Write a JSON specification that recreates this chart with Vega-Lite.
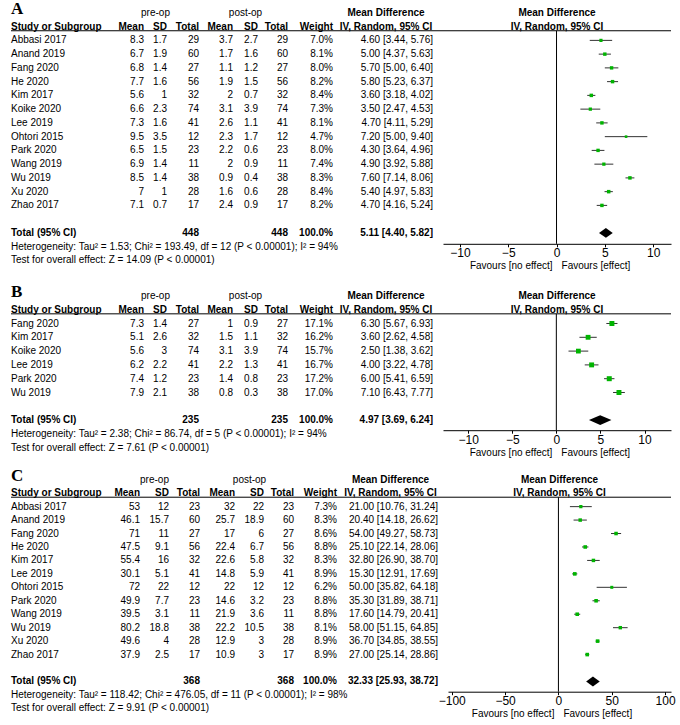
{
"$schema":"https://vega.github.io/schema/vega-lite/v6.json",
"padding":{"left":10,"top":0,"right":5,"bottom":5},
"config":{"view":{"stroke":null},"text":{"font":"Liberation Sans","fontSize":10,"color":"black"},
"axis":{"domainColor":"black","tickColor":"black","labelColor":"black","labelFont":"Liberation Sans","labelFontSize":12,"tickSize":3,"labelPadding":1,"grid":false,"labelOverlap":false,"labelFlush":false}},
"datasets":{
"A":[
{"study":"Abbasi 2017","m1":8.3,"sd1":1.7,"n1":29,"m2":3.7,"sd2":2.7,"n2":29,"weight":0.070,"md":4.60,"lo":3.44,"hi":5.76,"ci":"4.60 [3.44, 5.76]"},
{"study":"Anand 2019","m1":6.7,"sd1":1.9,"n1":60,"m2":1.7,"sd2":1.6,"n2":60,"weight":0.081,"md":5.00,"lo":4.37,"hi":5.63,"ci":"5.00 [4.37, 5.63]"},
{"study":"Fang 2020","m1":6.8,"sd1":1.4,"n1":27,"m2":1.1,"sd2":1.2,"n2":27,"weight":0.080,"md":5.70,"lo":5.00,"hi":6.40,"ci":"5.70 [5.00, 6.40]"},
{"study":"He 2020","m1":7.7,"sd1":1.6,"n1":56,"m2":1.9,"sd2":1.5,"n2":56,"weight":0.082,"md":5.80,"lo":5.23,"hi":6.37,"ci":"5.80 [5.23, 6.37]"},
{"study":"Kim 2017","m1":5.6,"sd1":1,"n1":32,"m2":2,"sd2":0.7,"n2":32,"weight":0.084,"md":3.60,"lo":3.18,"hi":4.02,"ci":"3.60 [3.18, 4.02]"},
{"study":"Koike 2020","m1":6.6,"sd1":2.3,"n1":74,"m2":3.1,"sd2":3.9,"n2":74,"weight":0.073,"md":3.50,"lo":2.47,"hi":4.53,"ci":"3.50 [2.47, 4.53]"},
{"study":"Lee 2019","m1":7.3,"sd1":1.6,"n1":41,"m2":2.6,"sd2":1.1,"n2":41,"weight":0.081,"md":4.70,"lo":4.11,"hi":5.29,"ci":"4.70 [4.11, 5.29]"},
{"study":"Ohtori 2015","m1":9.5,"sd1":3.5,"n1":12,"m2":2.3,"sd2":1.7,"n2":12,"weight":0.047,"md":7.20,"lo":5.00,"hi":9.40,"ci":"7.20 [5.00, 9.40]"},
{"study":"Park 2020","m1":6.5,"sd1":1.5,"n1":23,"m2":2.2,"sd2":0.6,"n2":23,"weight":0.080,"md":4.30,"lo":3.64,"hi":4.96,"ci":"4.30 [3.64, 4.96]"},
{"study":"Wang 2019","m1":6.9,"sd1":1.4,"n1":11,"m2":2,"sd2":0.9,"n2":11,"weight":0.074,"md":4.90,"lo":3.92,"hi":5.88,"ci":"4.90 [3.92, 5.88]"},
{"study":"Wu 2019","m1":8.5,"sd1":1.4,"n1":38,"m2":0.9,"sd2":0.4,"n2":38,"weight":0.083,"md":7.60,"lo":7.14,"hi":8.06,"ci":"7.60 [7.14, 8.06]"},
{"study":"Xu 2020","m1":7,"sd1":1,"n1":28,"m2":1.6,"sd2":0.6,"n2":28,"weight":0.084,"md":5.40,"lo":4.97,"hi":5.83,"ci":"5.40 [4.97, 5.83]"},
{"study":"Zhao 2017","m1":7.1,"sd1":0.7,"n1":17,"m2":2.4,"sd2":0.9,"n2":17,"weight":0.082,"md":4.70,"lo":4.16,"hi":5.24,"ci":"4.70 [4.16, 5.24]"}],
"A_total":[{"study":"Total (95% CI)","n1":448,"n2":448,"weight":1,"md":5.11,"lo":4.40,"hi":5.82,"ci":"5.11 [4.40, 5.82]"}],
"A_notes":[{"study":"het","label":"Heterogeneity: Tau² = 1.53; Chi² = 193.49, df = 12 (P < 0.00001); I² = 94%"},{"study":"test","label":"Test for overall effect: Z = 14.09 (P < 0.00001)"}],
"B":[
{"study":"Fang 2020","m1":7.3,"sd1":1.4,"n1":27,"m2":1,"sd2":0.9,"n2":27,"weight":0.171,"md":6.30,"lo":5.67,"hi":6.93,"ci":"6.30 [5.67, 6.93]"},
{"study":"Kim 2017","m1":5.1,"sd1":2.6,"n1":32,"m2":1.5,"sd2":1.1,"n2":32,"weight":0.162,"md":3.60,"lo":2.62,"hi":4.58,"ci":"3.60 [2.62, 4.58]"},
{"study":"Koike 2020","m1":5.6,"sd1":3,"n1":74,"m2":3.1,"sd2":3.9,"n2":74,"weight":0.157,"md":2.50,"lo":1.38,"hi":3.62,"ci":"2.50 [1.38, 3.62]"},
{"study":"Lee 2019","m1":6.2,"sd1":2.2,"n1":41,"m2":2.2,"sd2":1.3,"n2":41,"weight":0.167,"md":4.00,"lo":3.22,"hi":4.78,"ci":"4.00 [3.22, 4.78]"},
{"study":"Park 2020","m1":7.4,"sd1":1.2,"n1":23,"m2":1.4,"sd2":0.8,"n2":23,"weight":0.172,"md":6.00,"lo":5.41,"hi":6.59,"ci":"6.00 [5.41, 6.59]"},
{"study":"Wu 2019","m1":7.9,"sd1":2.1,"n1":38,"m2":0.8,"sd2":0.3,"n2":38,"weight":0.170,"md":7.10,"lo":6.43,"hi":7.77,"ci":"7.10 [6.43, 7.77]"}],
"B_total":[{"study":"Total (95% CI)","n1":235,"n2":235,"weight":1,"md":4.97,"lo":3.69,"hi":6.24,"ci":"4.97 [3.69, 6.24]"}],
"B_notes":[{"study":"het","label":"Heterogeneity: Tau² = 2.38; Chi² = 86.74, df = 5 (P < 0.00001); I² = 94%"},{"study":"test","label":"Test for overall effect: Z = 7.61 (P < 0.00001)"}],
"C":[
{"study":"Abbasi 2017","m1":53,"sd1":12,"n1":23,"m2":32,"sd2":22,"n2":23,"weight":0.073,"md":21.00,"lo":10.76,"hi":31.24,"ci":"21.00 [10.76, 31.24]"},
{"study":"Anand 2019","m1":46.1,"sd1":15.7,"n1":60,"m2":25.7,"sd2":18.9,"n2":60,"weight":0.083,"md":20.40,"lo":14.18,"hi":26.62,"ci":"20.40 [14.18, 26.62]"},
{"study":"Fang 2020","m1":71,"sd1":11,"n1":27,"m2":17,"sd2":6,"n2":27,"weight":0.086,"md":54.00,"lo":49.27,"hi":58.73,"ci":"54.00 [49.27, 58.73]"},
{"study":"He 2020","m1":47.5,"sd1":9.1,"n1":56,"m2":22.4,"sd2":6.7,"n2":56,"weight":0.088,"md":25.10,"lo":22.14,"hi":28.06,"ci":"25.10 [22.14, 28.06]"},
{"study":"Kim 2017","m1":55.4,"sd1":16,"n1":32,"m2":22.6,"sd2":5.8,"n2":32,"weight":0.083,"md":32.80,"lo":26.90,"hi":38.70,"ci":"32.80 [26.90, 38.70]"},
{"study":"Lee 2019","m1":30.1,"sd1":5.1,"n1":41,"m2":14.8,"sd2":5.9,"n2":41,"weight":0.089,"md":15.30,"lo":12.91,"hi":17.69,"ci":"15.30 [12.91, 17.69]"},
{"study":"Ohtori 2015","m1":72,"sd1":22,"n1":12,"m2":22,"sd2":12,"n2":12,"weight":0.062,"md":50.00,"lo":35.82,"hi":64.18,"ci":"50.00 [35.82, 64.18]"},
{"study":"Park 2020","m1":49.9,"sd1":7.7,"n1":23,"m2":14.6,"sd2":3.2,"n2":23,"weight":0.088,"md":35.30,"lo":31.89,"hi":38.71,"ci":"35.30 [31.89, 38.71]"},
{"study":"Wang 2019","m1":39.5,"sd1":3.1,"n1":11,"m2":21.9,"sd2":3.6,"n2":11,"weight":0.088,"md":17.60,"lo":14.79,"hi":20.41,"ci":"17.60 [14.79, 20.41]"},
{"study":"Wu 2019","m1":80.2,"sd1":18.8,"n1":38,"m2":22.2,"sd2":10.5,"n2":38,"weight":0.081,"md":58.00,"lo":51.15,"hi":64.85,"ci":"58.00 [51.15, 64.85]"},
{"study":"Xu 2020","m1":49.6,"sd1":4,"n1":28,"m2":12.9,"sd2":3,"n2":28,"weight":0.089,"md":36.70,"lo":34.85,"hi":38.55,"ci":"36.70 [34.85, 38.55]"},
{"study":"Zhao 2017","m1":37.9,"sd1":2.5,"n1":17,"m2":10.9,"sd2":3,"n2":17,"weight":0.089,"md":27.00,"lo":25.14,"hi":28.86,"ci":"27.00 [25.14, 28.86]"}],
"C_total":[{"study":"Total (95% CI)","n1":368,"n2":368,"weight":1,"md":32.33,"lo":25.93,"hi":38.72,"ci":"32.33 [25.93, 38.72]"}],
"C_notes":[{"study":"het","label":"Heterogeneity: Tau² = 118.42; Chi² = 476.05, df = 11 (P < 0.00001); I² = 98%"},{"study":"test","label":"Test for overall effect: Z = 9.91 (P < 0.00001)"}]
},
"spacing":11,
"vconcat":[
{"hconcat":[
{"width":100,"height":261.25,"encoding":{"y":{"field":"study","type":"nominal","axis":null,"scale":{"type":"band","paddingInner":0,"paddingOuter":0,"domain":["h1","h2","Abbasi 2017","Anand 2019","Fang 2020","He 2020","Kim 2017","Koike 2020","Lee 2019","Ohtori 2015","Park 2020","Wang 2019","Wu 2019","Xu 2020","Zhao 2017","gap","Total (95% CI)","het","test"]}}},"layer":[
{"data":{"name":"A"},"mark":{"type":"text","align":"left"},"encoding":{"x":{"value":0},"text":{"field":"study","type":"nominal"}}},
{"data":{"name":"A_total"},"mark":{"type":"text","align":"left","fontWeight":"bold"},"encoding":{"x":{"value":0},"text":{"field":"study","type":"nominal"}}},
{"data":{"name":"A_notes"},"mark":{"type":"text","align":"left"},"encoding":{"x":{"value":0},"text":{"field":"label","type":"nominal"}}},
{"data":{"values":[{"study":"h2","label":"Study or Subgroup"}]},"mark":{"type":"text","align":"left","fontWeight":"bold"},"encoding":{"x":{"value":0},"text":{"field":"label","type":"nominal"}}},
{"data":{"values":[{"study":"h1","label":"A"}]},"mark":{"type":"text","align":"left","font":"Liberation Serif","fontWeight":"bold","fontSize":17,"dy":-3.5},"encoding":{"x":{"value":0},"text":{"field":"label","type":"nominal"}}},
{"data":{"values":[{"study":"h2"}]},"mark":{"type":"rule","color":"black"},"encoding":{"y":{"field":"study","type":"nominal","bandPosition":0.8,"axis":null}}}]},
{"width":33,"height":261.25,"encoding":{"y":{"field":"study","type":"nominal","axis":null,"scale":{"type":"band","paddingInner":0,"paddingOuter":0,"domain":["h1","h2","Abbasi 2017","Anand 2019","Fang 2020","He 2020","Kim 2017","Koike 2020","Lee 2019","Ohtori 2015","Park 2020","Wang 2019","Wu 2019","Xu 2020","Zhao 2017","gap","Total (95% CI)","het","test"]}}},"layer":[
{"data":{"name":"A"},"mark":{"type":"text","align":"right"},"encoding":{"x":{"value":"width"},"text":{"field":"m1","type":"nominal"}}},
{"data":{"values":[{"study":"h2","label":"Mean"}]},"mark":{"type":"text","align":"right","fontWeight":"bold"},"encoding":{"x":{"value":"width"},"text":{"field":"label","type":"nominal"}}},
{"data":{"values":[{"study":"h2"}]},"mark":{"type":"rule","color":"black"},"encoding":{"y":{"field":"study","type":"nominal","bandPosition":0.8,"axis":null}}}]},
{"width":23,"height":261.25,"encoding":{"y":{"field":"study","type":"nominal","axis":null,"scale":{"type":"band","paddingInner":0,"paddingOuter":0,"domain":["h1","h2","Abbasi 2017","Anand 2019","Fang 2020","He 2020","Kim 2017","Koike 2020","Lee 2019","Ohtori 2015","Park 2020","Wang 2019","Wu 2019","Xu 2020","Zhao 2017","gap","Total (95% CI)","het","test"]}}},"layer":[
{"data":{"name":"A"},"mark":{"type":"text","align":"right"},"encoding":{"x":{"value":"width"},"text":{"field":"sd1","type":"nominal"}}},
{"data":{"values":[{"study":"h2","label":"SD"}]},"mark":{"type":"text","align":"right","fontWeight":"bold"},"encoding":{"x":{"value":"width"},"text":{"field":"label","type":"nominal"}}},
{"data":{"values":[{"study":"h1","label":"pre-op"}]},"mark":{"type":"text"},"encoding":{"text":{"field":"label","type":"nominal"}}},
{"data":{"values":[{"study":"h2"}]},"mark":{"type":"rule","color":"black"},"encoding":{"y":{"field":"study","type":"nominal","bandPosition":0.8,"axis":null}}}]},
{"width":32,"height":261.25,"encoding":{"y":{"field":"study","type":"nominal","axis":null,"scale":{"type":"band","paddingInner":0,"paddingOuter":0,"domain":["h1","h2","Abbasi 2017","Anand 2019","Fang 2020","He 2020","Kim 2017","Koike 2020","Lee 2019","Ohtori 2015","Park 2020","Wang 2019","Wu 2019","Xu 2020","Zhao 2017","gap","Total (95% CI)","het","test"]}}},"layer":[
{"data":{"name":"A"},"mark":{"type":"text","align":"right"},"encoding":{"x":{"value":"width"},"text":{"field":"n1","type":"nominal"}}},
{"data":{"name":"A_total"},"mark":{"type":"text","align":"right","fontWeight":"bold"},"encoding":{"x":{"value":"width"},"text":{"field":"n1","type":"nominal"}}},
{"data":{"values":[{"study":"h2","label":"Total"}]},"mark":{"type":"text","align":"right","fontWeight":"bold"},"encoding":{"x":{"value":"width"},"text":{"field":"label","type":"nominal"}}},
{"data":{"values":[{"study":"h2"}]},"mark":{"type":"rule","color":"black"},"encoding":{"y":{"field":"study","type":"nominal","bandPosition":0.8,"axis":null}}}]},
{"width":34,"height":261.25,"encoding":{"y":{"field":"study","type":"nominal","axis":null,"scale":{"type":"band","paddingInner":0,"paddingOuter":0,"domain":["h1","h2","Abbasi 2017","Anand 2019","Fang 2020","He 2020","Kim 2017","Koike 2020","Lee 2019","Ohtori 2015","Park 2020","Wang 2019","Wu 2019","Xu 2020","Zhao 2017","gap","Total (95% CI)","het","test"]}}},"layer":[
{"data":{"name":"A"},"mark":{"type":"text","align":"right"},"encoding":{"x":{"value":"width"},"text":{"field":"m2","type":"nominal"}}},
{"data":{"values":[{"study":"h2","label":"Mean"}]},"mark":{"type":"text","align":"right","fontWeight":"bold"},"encoding":{"x":{"value":"width"},"text":{"field":"label","type":"nominal"}}},
{"data":{"values":[{"study":"h2"}]},"mark":{"type":"rule","color":"black"},"encoding":{"y":{"field":"study","type":"nominal","bandPosition":0.8,"axis":null}}}]},
{"width":25,"height":261.25,"encoding":{"y":{"field":"study","type":"nominal","axis":null,"scale":{"type":"band","paddingInner":0,"paddingOuter":0,"domain":["h1","h2","Abbasi 2017","Anand 2019","Fang 2020","He 2020","Kim 2017","Koike 2020","Lee 2019","Ohtori 2015","Park 2020","Wang 2019","Wu 2019","Xu 2020","Zhao 2017","gap","Total (95% CI)","het","test"]}}},"layer":[
{"data":{"name":"A"},"mark":{"type":"text","align":"right"},"encoding":{"x":{"value":"width"},"text":{"field":"sd2","type":"nominal"}}},
{"data":{"values":[{"study":"h2","label":"SD"}]},"mark":{"type":"text","align":"right","fontWeight":"bold"},"encoding":{"x":{"value":"width"},"text":{"field":"label","type":"nominal"}}},
{"data":{"values":[{"study":"h1","label":"post-op"}]},"mark":{"type":"text"},"encoding":{"text":{"field":"label","type":"nominal"}}},
{"data":{"values":[{"study":"h2"}]},"mark":{"type":"rule","color":"black"},"encoding":{"y":{"field":"study","type":"nominal","bandPosition":0.8,"axis":null}}}]},
{"width":30,"height":261.25,"encoding":{"y":{"field":"study","type":"nominal","axis":null,"scale":{"type":"band","paddingInner":0,"paddingOuter":0,"domain":["h1","h2","Abbasi 2017","Anand 2019","Fang 2020","He 2020","Kim 2017","Koike 2020","Lee 2019","Ohtori 2015","Park 2020","Wang 2019","Wu 2019","Xu 2020","Zhao 2017","gap","Total (95% CI)","het","test"]}}},"layer":[
{"data":{"name":"A"},"mark":{"type":"text","align":"right"},"encoding":{"x":{"value":"width"},"text":{"field":"n2","type":"nominal"}}},
{"data":{"name":"A_total"},"mark":{"type":"text","align":"right","fontWeight":"bold"},"encoding":{"x":{"value":"width"},"text":{"field":"n2","type":"nominal"}}},
{"data":{"values":[{"study":"h2","label":"Total"}]},"mark":{"type":"text","align":"right","fontWeight":"bold"},"encoding":{"x":{"value":"width"},"text":{"field":"label","type":"nominal"}}},
{"data":{"values":[{"study":"h2"}]},"mark":{"type":"rule","color":"black"},"encoding":{"y":{"field":"study","type":"nominal","bandPosition":0.8,"axis":null}}}]},
{"width":45,"height":261.25,"encoding":{"y":{"field":"study","type":"nominal","axis":null,"scale":{"type":"band","paddingInner":0,"paddingOuter":0,"domain":["h1","h2","Abbasi 2017","Anand 2019","Fang 2020","He 2020","Kim 2017","Koike 2020","Lee 2019","Ohtori 2015","Park 2020","Wang 2019","Wu 2019","Xu 2020","Zhao 2017","gap","Total (95% CI)","het","test"]}}},"layer":[
{"data":{"name":"A"},"mark":{"type":"text","align":"right"},"encoding":{"x":{"value":"width"},"text":{"field":"weight","type":"quantitative","format":".1%"}}},
{"data":{"name":"A_total"},"mark":{"type":"text","align":"right","fontWeight":"bold"},"encoding":{"x":{"value":"width"},"text":{"field":"weight","type":"quantitative","format":".1%"}}},
{"data":{"values":[{"study":"h2","label":"Weight"}]},"mark":{"type":"text","align":"right","fontWeight":"bold"},"encoding":{"x":{"value":"width"},"text":{"field":"label","type":"nominal"}}},
{"data":{"values":[{"study":"h2"}]},"mark":{"type":"rule","color":"black"},"encoding":{"y":{"field":"study","type":"nominal","bandPosition":0.8,"axis":null}}}]},
{"width":110,"height":261.25,"encoding":{"y":{"field":"study","type":"nominal","axis":null,"scale":{"type":"band","paddingInner":0,"paddingOuter":0,"domain":["h1","h2","Abbasi 2017","Anand 2019","Fang 2020","He 2020","Kim 2017","Koike 2020","Lee 2019","Ohtori 2015","Park 2020","Wang 2019","Wu 2019","Xu 2020","Zhao 2017","gap","Total (95% CI)","het","test"]}}},"layer":[
{"data":{"name":"A"},"mark":{"type":"text","align":"right","dx":-10},"encoding":{"x":{"value":"width"},"text":{"field":"ci","type":"nominal"}}},
{"data":{"name":"A_total"},"mark":{"type":"text","align":"right","dx":-10,"fontWeight":"bold"},"encoding":{"x":{"value":"width"},"text":{"field":"ci","type":"nominal"}}},
{"data":{"values":[{"study":"h1","label":"Mean Difference"},{"study":"h2","label":"IV, Random, 95% CI"}]},"mark":{"type":"text","fontWeight":"bold","dx":-2},"encoding":{"text":{"field":"label","type":"nominal"}}},
{"data":{"values":[{"study":"h2"}]},"mark":{"type":"rule","color":"black"},"encoding":{"y":{"field":"study","type":"nominal","bandPosition":0.8,"axis":null}}}]},
{"width":228,"height":237.8,"encoding":{"y":{"field":"study","type":"nominal","axis":null,"scale":{"type":"band","paddingInner":0,"paddingOuter":0.146,"align":0,"domain":["h1","h2","Abbasi 2017","Anand 2019","Fang 2020","He 2020","Kim 2017","Koike 2020","Lee 2019","Ohtori 2015","Park 2020","Wang 2019","Wu 2019","Xu 2020","Zhao 2017","gap","Total (95% CI)"]}}},"layer":[
{"data":{"values":[{"study":"h1","label":"Mean Difference"},{"study":"h2","label":"IV, Random, 95% CI"}]},"mark":{"type":"text","fontWeight":"bold"},"encoding":{"text":{"field":"label","type":"nominal"}}},
{"data":{"values":[{"study":"h2"}]},"mark":{"type":"rule","color":"black"},"encoding":{"y":{"field":"study","type":"nominal","bandPosition":0.8,"axis":null}}},
{"data":{"name":"A"},"mark":{"type":"rule","color":"#333333"},"encoding":{"x":{"field":"lo","type":"quantitative","title":null,"scale":{"domain":[-11.75,11.85],"nice":false,"zero":false},"axis":{"values":[-10,-5,0,5,10],"title":null}},"x2":{"field":"hi"}}},
{"data":{"values":[{"study":"h2"}]},"mark":{"type":"rule","color":"black"},"encoding":{"x":{"datum":0,"type":"quantitative"},"y":{"field":"study","type":"nominal","bandPosition":0.8,"axis":null},"y2":{"value":"height"}}},
{"data":{"name":"A"},"mark":{"type":"point","shape":"square","filled":true,"opacity":1,"color":"#00b400"},"encoding":{"x":{"field":"md","type":"quantitative","title":null},"size":{"field":"weight","type":"quantitative","legend":null,"scale":{"domain":[0,0.2],"range":[0,29]}}}},
{"data":{"name":"A_total"},"mark":{"type":"point","shape":"M-1,0L0,-0.72L1,0L0,0.72Z","filled":true,"opacity":1,"color":"black","size":190},"encoding":{"x":{"field":"md","type":"quantitative","title":null}}},
{"data":{"values":[{"label":"Favours [no effect]"}]},"mark":{"type":"text","align":"right","dx":-4,"dy":22.5},"encoding":{"x":{"datum":0,"type":"quantitative"},"y":{"value":"height"},"text":{"field":"label","type":"nominal"}}},
{"data":{"values":[{"label":"Favours [effect]"}]},"mark":{"type":"text","align":"left","dx":5,"dy":22.5},"encoding":{"x":{"datum":0,"type":"quantitative"},"y":{"value":"height"},"text":{"field":"label","type":"nominal"}}}]}
],"spacing":0,"bounds":"flush"},
{"spacing":9,"vconcat":[
{"hconcat":[
{"width":100,"height":165.6,"encoding":{"y":{"field":"study","type":"nominal","axis":null,"scale":{"type":"band","paddingInner":0,"paddingOuter":0,"domain":["h1","h2","Fang 2020","Kim 2017","Koike 2020","Lee 2019","Park 2020","Wu 2019","gap","Total (95% CI)","het","test"]}}},"layer":[
{"data":{"name":"B"},"mark":{"type":"text","align":"left"},"encoding":{"x":{"value":0},"text":{"field":"study","type":"nominal"}}},
{"data":{"name":"B_total"},"mark":{"type":"text","align":"left","fontWeight":"bold"},"encoding":{"x":{"value":0},"text":{"field":"study","type":"nominal"}}},
{"data":{"name":"B_notes"},"mark":{"type":"text","align":"left"},"encoding":{"x":{"value":0},"text":{"field":"label","type":"nominal"}}},
{"data":{"values":[{"study":"h2","label":"Study or Subgroup"}]},"mark":{"type":"text","align":"left","fontWeight":"bold"},"encoding":{"x":{"value":0},"text":{"field":"label","type":"nominal"}}},
{"data":{"values":[{"study":"h1","label":"B"}]},"mark":{"type":"text","align":"left","font":"Liberation Serif","fontWeight":"bold","fontSize":17,"dy":-3.5},"encoding":{"x":{"value":0},"text":{"field":"label","type":"nominal"}}},
{"data":{"values":[{"study":"h2"}]},"mark":{"type":"rule","color":"black"},"encoding":{"y":{"field":"study","type":"nominal","bandPosition":0.8,"axis":null}}}]},
{"width":33,"height":165.6,"encoding":{"y":{"field":"study","type":"nominal","axis":null,"scale":{"type":"band","paddingInner":0,"paddingOuter":0,"domain":["h1","h2","Fang 2020","Kim 2017","Koike 2020","Lee 2019","Park 2020","Wu 2019","gap","Total (95% CI)","het","test"]}}},"layer":[
{"data":{"name":"B"},"mark":{"type":"text","align":"right"},"encoding":{"x":{"value":"width"},"text":{"field":"m1","type":"nominal"}}},
{"data":{"values":[{"study":"h2","label":"Mean"}]},"mark":{"type":"text","align":"right","fontWeight":"bold"},"encoding":{"x":{"value":"width"},"text":{"field":"label","type":"nominal"}}},
{"data":{"values":[{"study":"h2"}]},"mark":{"type":"rule","color":"black"},"encoding":{"y":{"field":"study","type":"nominal","bandPosition":0.8,"axis":null}}}]},
{"width":23,"height":165.6,"encoding":{"y":{"field":"study","type":"nominal","axis":null,"scale":{"type":"band","paddingInner":0,"paddingOuter":0,"domain":["h1","h2","Fang 2020","Kim 2017","Koike 2020","Lee 2019","Park 2020","Wu 2019","gap","Total (95% CI)","het","test"]}}},"layer":[
{"data":{"name":"B"},"mark":{"type":"text","align":"right"},"encoding":{"x":{"value":"width"},"text":{"field":"sd1","type":"nominal"}}},
{"data":{"values":[{"study":"h2","label":"SD"}]},"mark":{"type":"text","align":"right","fontWeight":"bold"},"encoding":{"x":{"value":"width"},"text":{"field":"label","type":"nominal"}}},
{"data":{"values":[{"study":"h1","label":"pre-op"}]},"mark":{"type":"text"},"encoding":{"text":{"field":"label","type":"nominal"}}},
{"data":{"values":[{"study":"h2"}]},"mark":{"type":"rule","color":"black"},"encoding":{"y":{"field":"study","type":"nominal","bandPosition":0.8,"axis":null}}}]},
{"width":32,"height":165.6,"encoding":{"y":{"field":"study","type":"nominal","axis":null,"scale":{"type":"band","paddingInner":0,"paddingOuter":0,"domain":["h1","h2","Fang 2020","Kim 2017","Koike 2020","Lee 2019","Park 2020","Wu 2019","gap","Total (95% CI)","het","test"]}}},"layer":[
{"data":{"name":"B"},"mark":{"type":"text","align":"right"},"encoding":{"x":{"value":"width"},"text":{"field":"n1","type":"nominal"}}},
{"data":{"name":"B_total"},"mark":{"type":"text","align":"right","fontWeight":"bold"},"encoding":{"x":{"value":"width"},"text":{"field":"n1","type":"nominal"}}},
{"data":{"values":[{"study":"h2","label":"Total"}]},"mark":{"type":"text","align":"right","fontWeight":"bold"},"encoding":{"x":{"value":"width"},"text":{"field":"label","type":"nominal"}}},
{"data":{"values":[{"study":"h2"}]},"mark":{"type":"rule","color":"black"},"encoding":{"y":{"field":"study","type":"nominal","bandPosition":0.8,"axis":null}}}]},
{"width":34,"height":165.6,"encoding":{"y":{"field":"study","type":"nominal","axis":null,"scale":{"type":"band","paddingInner":0,"paddingOuter":0,"domain":["h1","h2","Fang 2020","Kim 2017","Koike 2020","Lee 2019","Park 2020","Wu 2019","gap","Total (95% CI)","het","test"]}}},"layer":[
{"data":{"name":"B"},"mark":{"type":"text","align":"right"},"encoding":{"x":{"value":"width"},"text":{"field":"m2","type":"nominal"}}},
{"data":{"values":[{"study":"h2","label":"Mean"}]},"mark":{"type":"text","align":"right","fontWeight":"bold"},"encoding":{"x":{"value":"width"},"text":{"field":"label","type":"nominal"}}},
{"data":{"values":[{"study":"h2"}]},"mark":{"type":"rule","color":"black"},"encoding":{"y":{"field":"study","type":"nominal","bandPosition":0.8,"axis":null}}}]},
{"width":25,"height":165.6,"encoding":{"y":{"field":"study","type":"nominal","axis":null,"scale":{"type":"band","paddingInner":0,"paddingOuter":0,"domain":["h1","h2","Fang 2020","Kim 2017","Koike 2020","Lee 2019","Park 2020","Wu 2019","gap","Total (95% CI)","het","test"]}}},"layer":[
{"data":{"name":"B"},"mark":{"type":"text","align":"right"},"encoding":{"x":{"value":"width"},"text":{"field":"sd2","type":"nominal"}}},
{"data":{"values":[{"study":"h2","label":"SD"}]},"mark":{"type":"text","align":"right","fontWeight":"bold"},"encoding":{"x":{"value":"width"},"text":{"field":"label","type":"nominal"}}},
{"data":{"values":[{"study":"h1","label":"post-op"}]},"mark":{"type":"text"},"encoding":{"text":{"field":"label","type":"nominal"}}},
{"data":{"values":[{"study":"h2"}]},"mark":{"type":"rule","color":"black"},"encoding":{"y":{"field":"study","type":"nominal","bandPosition":0.8,"axis":null}}}]},
{"width":30,"height":165.6,"encoding":{"y":{"field":"study","type":"nominal","axis":null,"scale":{"type":"band","paddingInner":0,"paddingOuter":0,"domain":["h1","h2","Fang 2020","Kim 2017","Koike 2020","Lee 2019","Park 2020","Wu 2019","gap","Total (95% CI)","het","test"]}}},"layer":[
{"data":{"name":"B"},"mark":{"type":"text","align":"right"},"encoding":{"x":{"value":"width"},"text":{"field":"n2","type":"nominal"}}},
{"data":{"name":"B_total"},"mark":{"type":"text","align":"right","fontWeight":"bold"},"encoding":{"x":{"value":"width"},"text":{"field":"n2","type":"nominal"}}},
{"data":{"values":[{"study":"h2","label":"Total"}]},"mark":{"type":"text","align":"right","fontWeight":"bold"},"encoding":{"x":{"value":"width"},"text":{"field":"label","type":"nominal"}}},
{"data":{"values":[{"study":"h2"}]},"mark":{"type":"rule","color":"black"},"encoding":{"y":{"field":"study","type":"nominal","bandPosition":0.8,"axis":null}}}]},
{"width":45,"height":165.6,"encoding":{"y":{"field":"study","type":"nominal","axis":null,"scale":{"type":"band","paddingInner":0,"paddingOuter":0,"domain":["h1","h2","Fang 2020","Kim 2017","Koike 2020","Lee 2019","Park 2020","Wu 2019","gap","Total (95% CI)","het","test"]}}},"layer":[
{"data":{"name":"B"},"mark":{"type":"text","align":"right"},"encoding":{"x":{"value":"width"},"text":{"field":"weight","type":"quantitative","format":".1%"}}},
{"data":{"name":"B_total"},"mark":{"type":"text","align":"right","fontWeight":"bold"},"encoding":{"x":{"value":"width"},"text":{"field":"weight","type":"quantitative","format":".1%"}}},
{"data":{"values":[{"study":"h2","label":"Weight"}]},"mark":{"type":"text","align":"right","fontWeight":"bold"},"encoding":{"x":{"value":"width"},"text":{"field":"label","type":"nominal"}}},
{"data":{"values":[{"study":"h2"}]},"mark":{"type":"rule","color":"black"},"encoding":{"y":{"field":"study","type":"nominal","bandPosition":0.8,"axis":null}}}]},
{"width":110,"height":165.6,"encoding":{"y":{"field":"study","type":"nominal","axis":null,"scale":{"type":"band","paddingInner":0,"paddingOuter":0,"domain":["h1","h2","Fang 2020","Kim 2017","Koike 2020","Lee 2019","Park 2020","Wu 2019","gap","Total (95% CI)","het","test"]}}},"layer":[
{"data":{"name":"B"},"mark":{"type":"text","align":"right","dx":-10},"encoding":{"x":{"value":"width"},"text":{"field":"ci","type":"nominal"}}},
{"data":{"name":"B_total"},"mark":{"type":"text","align":"right","dx":-10,"fontWeight":"bold"},"encoding":{"x":{"value":"width"},"text":{"field":"ci","type":"nominal"}}},
{"data":{"values":[{"study":"h1","label":"Mean Difference"},{"study":"h2","label":"IV, Random, 95% CI"}]},"mark":{"type":"text","fontWeight":"bold","dx":-2},"encoding":{"text":{"field":"label","type":"nominal"}}},
{"data":{"values":[{"study":"h2"}]},"mark":{"type":"rule","color":"black"},"encoding":{"y":{"field":"study","type":"nominal","bandPosition":0.8,"axis":null}}}]},
{"width":228,"height":141.2,"encoding":{"y":{"field":"study","type":"nominal","axis":null,"scale":{"type":"band","paddingInner":0,"paddingOuter":0.116,"align":0,"domain":["h1","h2","Fang 2020","Kim 2017","Koike 2020","Lee 2019","Park 2020","Wu 2019","gap","Total (95% CI)"]}}},"layer":[
{"data":{"values":[{"study":"h1","label":"Mean Difference"},{"study":"h2","label":"IV, Random, 95% CI"}]},"mark":{"type":"text","fontWeight":"bold"},"encoding":{"text":{"field":"label","type":"nominal"}}},
{"data":{"values":[{"study":"h2"}]},"mark":{"type":"rule","color":"black"},"encoding":{"y":{"field":"study","type":"nominal","bandPosition":0.8,"axis":null}}},
{"data":{"name":"B"},"mark":{"type":"rule","color":"#333333"},"encoding":{"x":{"field":"lo","type":"quantitative","title":null,"scale":{"domain":[-12.85,13.0],"nice":false,"zero":false},"axis":{"values":[-10,-5,0,5,10],"title":null}},"x2":{"field":"hi"}}},
{"data":{"values":[{"study":"h2"}]},"mark":{"type":"rule","color":"black"},"encoding":{"x":{"datum":0,"type":"quantitative"},"y":{"field":"study","type":"nominal","bandPosition":0.8,"axis":null},"y2":{"value":"height"}}},
{"data":{"name":"B"},"mark":{"type":"point","shape":"square","filled":true,"opacity":1,"color":"#00b400"},"encoding":{"x":{"field":"md","type":"quantitative","title":null},"size":{"field":"weight","type":"quantitative","legend":null,"scale":{"domain":[0,0.2],"range":[0,29]}}}},
{"data":{"name":"B_total"},"mark":{"type":"point","shape":"M-1,0L0,-0.44L1,0L0,0.44Z","filled":true,"opacity":1,"color":"black","size":506},"encoding":{"x":{"field":"md","type":"quantitative","title":null}}},
{"data":{"values":[{"label":"Favours [no effect]"}]},"mark":{"type":"text","align":"right","dx":-4,"dy":22.5},"encoding":{"x":{"datum":0,"type":"quantitative"},"y":{"value":"height"},"text":{"field":"label","type":"nominal"}}},
{"data":{"values":[{"label":"Favours [effect]"}]},"mark":{"type":"text","align":"left","dx":5,"dy":22.5},"encoding":{"x":{"datum":0,"type":"quantitative"},"y":{"value":"height"},"text":{"field":"label","type":"nominal"}}}]}
],"spacing":0,"bounds":"flush"},
{"hconcat":[
{"width":100,"height":242.1,"encoding":{"y":{"field":"study","type":"nominal","axis":null,"scale":{"type":"band","paddingInner":0,"paddingOuter":0,"domain":["h1","h2","Abbasi 2017","Anand 2019","Fang 2020","He 2020","Kim 2017","Lee 2019","Ohtori 2015","Park 2020","Wang 2019","Wu 2019","Xu 2020","Zhao 2017","gap","Total (95% CI)","het","test"]}}},"layer":[
{"data":{"name":"C"},"mark":{"type":"text","align":"left"},"encoding":{"x":{"value":0},"text":{"field":"study","type":"nominal"}}},
{"data":{"name":"C_total"},"mark":{"type":"text","align":"left","fontWeight":"bold"},"encoding":{"x":{"value":0},"text":{"field":"study","type":"nominal"}}},
{"data":{"name":"C_notes"},"mark":{"type":"text","align":"left"},"encoding":{"x":{"value":0},"text":{"field":"label","type":"nominal"}}},
{"data":{"values":[{"study":"h2","label":"Study or Subgroup"}]},"mark":{"type":"text","align":"left","fontWeight":"bold"},"encoding":{"x":{"value":0},"text":{"field":"label","type":"nominal"}}},
{"data":{"values":[{"study":"h1","label":"C"}]},"mark":{"type":"text","align":"left","font":"Liberation Serif","fontWeight":"bold","fontSize":17,"dy":-3.5},"encoding":{"x":{"value":0},"text":{"field":"label","type":"nominal"}}},
{"data":{"values":[{"study":"h2"}]},"mark":{"type":"rule","color":"black"},"encoding":{"y":{"field":"study","type":"nominal","bandPosition":0.8,"axis":null}}}]},
{"width":29,"height":242.1,"encoding":{"y":{"field":"study","type":"nominal","axis":null,"scale":{"type":"band","paddingInner":0,"paddingOuter":0,"domain":["h1","h2","Abbasi 2017","Anand 2019","Fang 2020","He 2020","Kim 2017","Lee 2019","Ohtori 2015","Park 2020","Wang 2019","Wu 2019","Xu 2020","Zhao 2017","gap","Total (95% CI)","het","test"]}}},"layer":[
{"data":{"name":"C"},"mark":{"type":"text","align":"right"},"encoding":{"x":{"value":"width"},"text":{"field":"m1","type":"nominal"}}},
{"data":{"values":[{"study":"h2","label":"Mean"}]},"mark":{"type":"text","align":"right","fontWeight":"bold"},"encoding":{"x":{"value":"width"},"text":{"field":"label","type":"nominal"}}},
{"data":{"values":[{"study":"h2"}]},"mark":{"type":"rule","color":"black"},"encoding":{"y":{"field":"study","type":"nominal","bandPosition":0.8,"axis":null}}}]},
{"width":29,"height":242.1,"encoding":{"y":{"field":"study","type":"nominal","axis":null,"scale":{"type":"band","paddingInner":0,"paddingOuter":0,"domain":["h1","h2","Abbasi 2017","Anand 2019","Fang 2020","He 2020","Kim 2017","Lee 2019","Ohtori 2015","Park 2020","Wang 2019","Wu 2019","Xu 2020","Zhao 2017","gap","Total (95% CI)","het","test"]}}},"layer":[
{"data":{"name":"C"},"mark":{"type":"text","align":"right"},"encoding":{"x":{"value":"width"},"text":{"field":"sd1","type":"nominal"}}},
{"data":{"values":[{"study":"h2","label":"SD"}]},"mark":{"type":"text","align":"right","fontWeight":"bold"},"encoding":{"x":{"value":"width"},"text":{"field":"label","type":"nominal"}}},
{"data":{"values":[{"study":"h1","label":"pre-op"}]},"mark":{"type":"text"},"encoding":{"text":{"field":"label","type":"nominal"}}},
{"data":{"values":[{"study":"h2"}]},"mark":{"type":"rule","color":"black"},"encoding":{"y":{"field":"study","type":"nominal","bandPosition":0.8,"axis":null}}}]},
{"width":31,"height":242.1,"encoding":{"y":{"field":"study","type":"nominal","axis":null,"scale":{"type":"band","paddingInner":0,"paddingOuter":0,"domain":["h1","h2","Abbasi 2017","Anand 2019","Fang 2020","He 2020","Kim 2017","Lee 2019","Ohtori 2015","Park 2020","Wang 2019","Wu 2019","Xu 2020","Zhao 2017","gap","Total (95% CI)","het","test"]}}},"layer":[
{"data":{"name":"C"},"mark":{"type":"text","align":"right"},"encoding":{"x":{"value":"width"},"text":{"field":"n1","type":"nominal"}}},
{"data":{"name":"C_total"},"mark":{"type":"text","align":"right","fontWeight":"bold"},"encoding":{"x":{"value":"width"},"text":{"field":"n1","type":"nominal"}}},
{"data":{"values":[{"study":"h2","label":"Total"}]},"mark":{"type":"text","align":"right","fontWeight":"bold"},"encoding":{"x":{"value":"width"},"text":{"field":"label","type":"nominal"}}},
{"data":{"values":[{"study":"h2"}]},"mark":{"type":"rule","color":"black"},"encoding":{"y":{"field":"study","type":"nominal","bandPosition":0.8,"axis":null}}}]},
{"width":35,"height":242.1,"encoding":{"y":{"field":"study","type":"nominal","axis":null,"scale":{"type":"band","paddingInner":0,"paddingOuter":0,"domain":["h1","h2","Abbasi 2017","Anand 2019","Fang 2020","He 2020","Kim 2017","Lee 2019","Ohtori 2015","Park 2020","Wang 2019","Wu 2019","Xu 2020","Zhao 2017","gap","Total (95% CI)","het","test"]}}},"layer":[
{"data":{"name":"C"},"mark":{"type":"text","align":"right"},"encoding":{"x":{"value":"width"},"text":{"field":"m2","type":"nominal"}}},
{"data":{"values":[{"study":"h2","label":"Mean"}]},"mark":{"type":"text","align":"right","fontWeight":"bold"},"encoding":{"x":{"value":"width"},"text":{"field":"label","type":"nominal"}}},
{"data":{"values":[{"study":"h2"}]},"mark":{"type":"rule","color":"black"},"encoding":{"y":{"field":"study","type":"nominal","bandPosition":0.8,"axis":null}}}]},
{"width":29,"height":242.1,"encoding":{"y":{"field":"study","type":"nominal","axis":null,"scale":{"type":"band","paddingInner":0,"paddingOuter":0,"domain":["h1","h2","Abbasi 2017","Anand 2019","Fang 2020","He 2020","Kim 2017","Lee 2019","Ohtori 2015","Park 2020","Wang 2019","Wu 2019","Xu 2020","Zhao 2017","gap","Total (95% CI)","het","test"]}}},"layer":[
{"data":{"name":"C"},"mark":{"type":"text","align":"right"},"encoding":{"x":{"value":"width"},"text":{"field":"sd2","type":"nominal"}}},
{"data":{"values":[{"study":"h2","label":"SD"}]},"mark":{"type":"text","align":"right","fontWeight":"bold"},"encoding":{"x":{"value":"width"},"text":{"field":"label","type":"nominal"}}},
{"data":{"values":[{"study":"h1","label":"post-op"}]},"mark":{"type":"text"},"encoding":{"text":{"field":"label","type":"nominal"}}},
{"data":{"values":[{"study":"h2"}]},"mark":{"type":"rule","color":"black"},"encoding":{"y":{"field":"study","type":"nominal","bandPosition":0.8,"axis":null}}}]},
{"width":30,"height":242.1,"encoding":{"y":{"field":"study","type":"nominal","axis":null,"scale":{"type":"band","paddingInner":0,"paddingOuter":0,"domain":["h1","h2","Abbasi 2017","Anand 2019","Fang 2020","He 2020","Kim 2017","Lee 2019","Ohtori 2015","Park 2020","Wang 2019","Wu 2019","Xu 2020","Zhao 2017","gap","Total (95% CI)","het","test"]}}},"layer":[
{"data":{"name":"C"},"mark":{"type":"text","align":"right"},"encoding":{"x":{"value":"width"},"text":{"field":"n2","type":"nominal"}}},
{"data":{"name":"C_total"},"mark":{"type":"text","align":"right","fontWeight":"bold"},"encoding":{"x":{"value":"width"},"text":{"field":"n2","type":"nominal"}}},
{"data":{"values":[{"study":"h2","label":"Total"}]},"mark":{"type":"text","align":"right","fontWeight":"bold"},"encoding":{"x":{"value":"width"},"text":{"field":"label","type":"nominal"}}},
{"data":{"values":[{"study":"h2"}]},"mark":{"type":"rule","color":"black"},"encoding":{"y":{"field":"study","type":"nominal","bandPosition":0.8,"axis":null}}}]},
{"width":43,"height":242.1,"encoding":{"y":{"field":"study","type":"nominal","axis":null,"scale":{"type":"band","paddingInner":0,"paddingOuter":0,"domain":["h1","h2","Abbasi 2017","Anand 2019","Fang 2020","He 2020","Kim 2017","Lee 2019","Ohtori 2015","Park 2020","Wang 2019","Wu 2019","Xu 2020","Zhao 2017","gap","Total (95% CI)","het","test"]}}},"layer":[
{"data":{"name":"C"},"mark":{"type":"text","align":"right"},"encoding":{"x":{"value":"width"},"text":{"field":"weight","type":"quantitative","format":".1%"}}},
{"data":{"name":"C_total"},"mark":{"type":"text","align":"right","fontWeight":"bold"},"encoding":{"x":{"value":"width"},"text":{"field":"weight","type":"quantitative","format":".1%"}}},
{"data":{"values":[{"study":"h2","label":"Weight"}]},"mark":{"type":"text","align":"right","fontWeight":"bold"},"encoding":{"x":{"value":"width"},"text":{"field":"label","type":"nominal"}}},
{"data":{"values":[{"study":"h2"}]},"mark":{"type":"rule","color":"black"},"encoding":{"y":{"field":"study","type":"nominal","bandPosition":0.8,"axis":null}}}]},
{"width":111,"height":242.1,"encoding":{"y":{"field":"study","type":"nominal","axis":null,"scale":{"type":"band","paddingInner":0,"paddingOuter":0,"domain":["h1","h2","Abbasi 2017","Anand 2019","Fang 2020","He 2020","Kim 2017","Lee 2019","Ohtori 2015","Park 2020","Wang 2019","Wu 2019","Xu 2020","Zhao 2017","gap","Total (95% CI)","het","test"]}}},"layer":[
{"data":{"name":"C"},"mark":{"type":"text","align":"right","dx":-10},"encoding":{"x":{"value":"width"},"text":{"field":"ci","type":"nominal"}}},
{"data":{"name":"C_total"},"mark":{"type":"text","align":"right","dx":-10,"fontWeight":"bold"},"encoding":{"x":{"value":"width"},"text":{"field":"ci","type":"nominal"}}},
{"data":{"values":[{"study":"h1","label":"Mean Difference"},{"study":"h2","label":"IV, Random, 95% CI"}]},"mark":{"type":"text","fontWeight":"bold","dx":-2},"encoding":{"text":{"field":"label","type":"nominal"}}},
{"data":{"values":[{"study":"h2"}]},"mark":{"type":"rule","color":"black"},"encoding":{"y":{"field":"study","type":"nominal","bandPosition":0.8,"axis":null}}}]},
{"width":223,"height":218.7,"encoding":{"y":{"field":"study","type":"nominal","axis":null,"scale":{"type":"band","paddingInner":0,"paddingOuter":0.13,"align":0,"domain":["h1","h2","Abbasi 2017","Anand 2019","Fang 2020","He 2020","Kim 2017","Lee 2019","Ohtori 2015","Park 2020","Wang 2019","Wu 2019","Xu 2020","Zhao 2017","gap","Total (95% CI)"]}}},"layer":[
{"data":{"values":[{"study":"h1","label":"Mean Difference"},{"study":"h2","label":"IV, Random, 95% CI"}]},"mark":{"type":"text","fontWeight":"bold"},"encoding":{"text":{"field":"label","type":"nominal"}}},
{"data":{"values":[{"study":"h2"}]},"mark":{"type":"rule","color":"black"},"encoding":{"y":{"field":"study","type":"nominal","bandPosition":0.8,"axis":null}}},
{"data":{"name":"C"},"mark":{"type":"rule","color":"#333333"},"encoding":{"x":{"field":"lo","type":"quantitative","title":null,"scale":{"domain":[-103.5,105.5],"nice":false,"zero":false},"axis":{"values":[-100,-50,0,50,100],"title":null}},"x2":{"field":"hi"}}},
{"data":{"values":[{"study":"h2"}]},"mark":{"type":"rule","color":"black"},"encoding":{"x":{"datum":0,"type":"quantitative"},"y":{"field":"study","type":"nominal","bandPosition":0.8,"axis":null},"y2":{"value":"height"}}},
{"data":{"name":"C"},"mark":{"type":"point","shape":"square","filled":true,"opacity":1,"color":"#00b400"},"encoding":{"x":{"field":"md","type":"quantitative","title":null},"size":{"field":"weight","type":"quantitative","legend":null,"scale":{"domain":[0,0.2],"range":[0,29]}}}},
{"data":{"name":"C_total"},"mark":{"type":"point","shape":"M-1,0L0,-0.73L1,0L0,0.73Z","filled":true,"opacity":1,"color":"black","size":185},"encoding":{"x":{"field":"md","type":"quantitative","title":null}}},
{"data":{"values":[{"label":"Favours [no effect]"}]},"mark":{"type":"text","align":"right","dx":-4,"dy":22.5},"encoding":{"x":{"datum":0,"type":"quantitative"},"y":{"value":"height"},"text":{"field":"label","type":"nominal"}}},
{"data":{"values":[{"label":"Favours [effect]"}]},"mark":{"type":"text","align":"left","dx":5,"dy":22.5},"encoding":{"x":{"datum":0,"type":"quantitative"},"y":{"value":"height"},"text":{"field":"label","type":"nominal"}}}]}
],"spacing":0,"bounds":"flush"}
]}
]
}
